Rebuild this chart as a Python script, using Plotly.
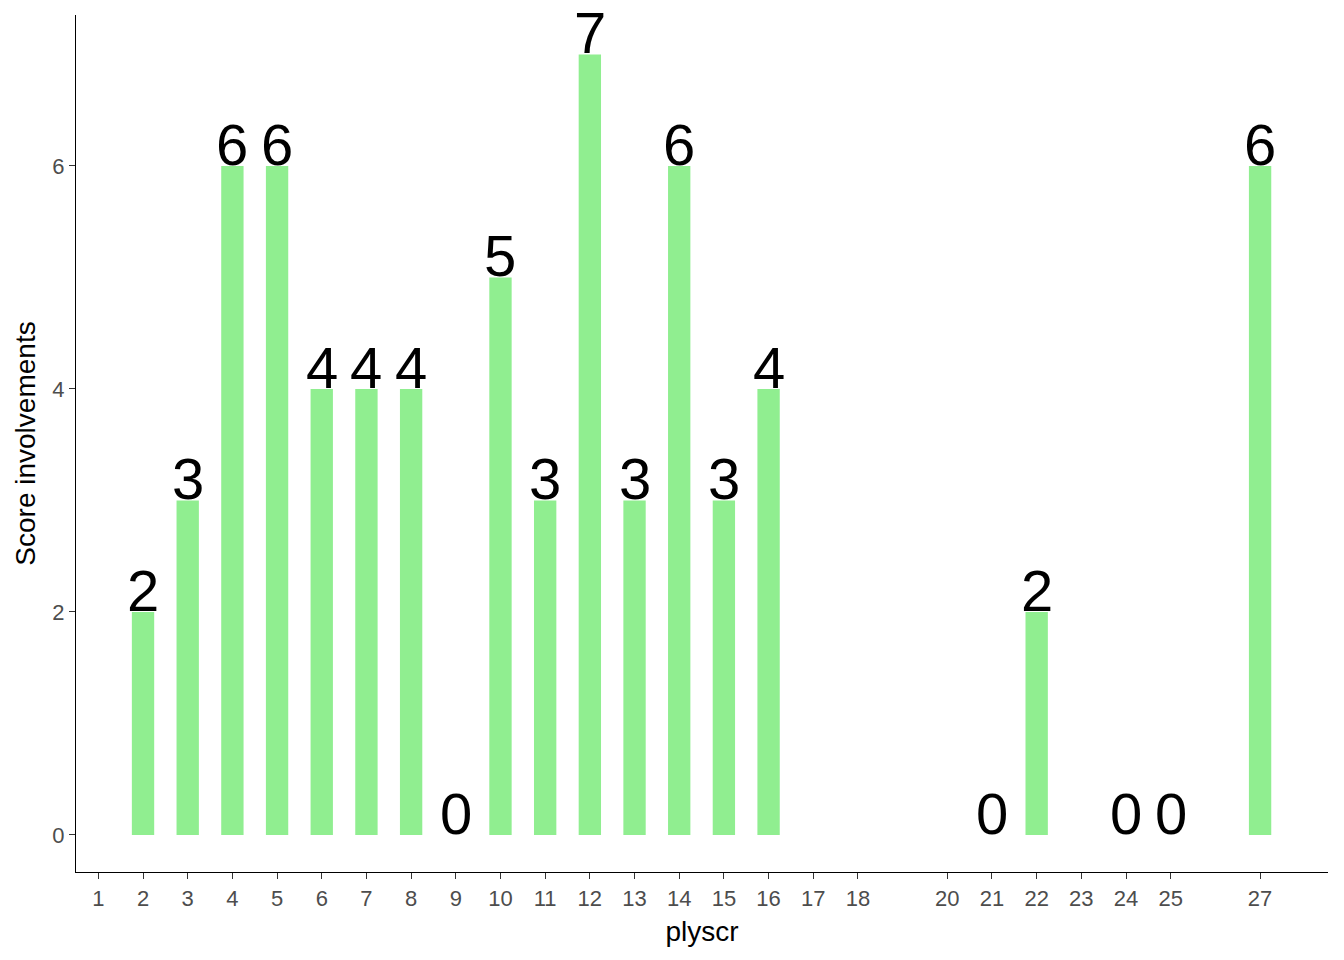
import plotly.graph_objects as go

plyscr = [2, 3, 4, 5, 6, 7, 8, 9, 10, 11, 12, 13, 14, 15, 16, 21, 22, 24, 25, 27]
involvements = [2, 3, 6, 6, 4, 4, 4, 0, 5, 3, 7, 3, 6, 3, 4, 0, 2, 0, 0, 6]
x_ticks = [1, 2, 3, 4, 5, 6, 7, 8, 9, 10, 11, 12, 13, 14, 15, 16, 17, 18,
           20, 21, 22, 23, 24, 25, 27]
y_ticks = [0, 2, 4, 6]

FONT = "Liberation Sans, Arial, sans-serif"

fig = go.Figure()
fig.add_trace(go.Bar(
    x=plyscr, y=involvements, width=0.5,
    marker=dict(color="#90EE90", line=dict(width=0)),
    hoverinfo="x+y",
))

for xv, yv in zip(plyscr, involvements):
    fig.add_annotation(
        x=xv, y=yv, text=str(yv), showarrow=False,
        xanchor="center", yanchor="bottom", yshift=-13,
        font=dict(family=FONT, size=58, color="black"),
    )

fig.update_layout(
    width=1344, height=960,
    margin=dict(l=68, r=24, t=7, b=96),
    paper_bgcolor="white", plot_bgcolor="white",
    showlegend=False,
    font=dict(family=FONT),
    xaxis=dict(
        range=[0.5, 28.52], tickmode="array", tickvals=x_ticks,
        ticktext=[str(t) for t in x_ticks],
        showgrid=False, zeroline=False,
        showline=True, linecolor="black", linewidth=1.3,
        ticks="outside", ticklen=6, tickwidth=1.3, tickcolor="#333333",
        tickfont=dict(size=22, color="#4D4D4D", family=FONT),
        title=dict(text="plyscr", font=dict(size=28, color="black", family=FONT), standoff=11),
    ),
    yaxis=dict(
        range=[-0.332, 7.354], tickmode="array", tickvals=y_ticks,
        showgrid=False, zeroline=False,
        showline=True, linecolor="black", linewidth=1.3,
        ticks="outside", ticklen=6, tickwidth=1.3, tickcolor="#333333",
        tickfont=dict(size=22, color="#4D4D4D", family=FONT),
        title=dict(text="Score involvements", font=dict(size=28, color="black", family=FONT), standoff=8),
    ),
)

fig.write_html("out.html")
